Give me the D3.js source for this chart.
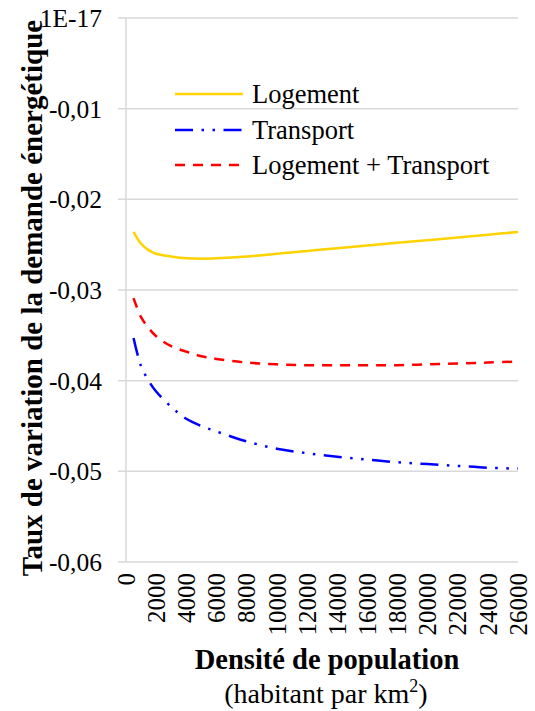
<!DOCTYPE html>
<html>
<head>
<meta charset="utf-8">
<script src="https://cdn.jsdelivr.net/npm/d3@7"></script>
<style>
  html, body { margin: 0; padding: 0; background: #fff; }
  svg { display: block; }
</style>
</head>
<body>
<svg id="chart" width="535" height="711"></svg>
<script>
// Population density (inhabitants per km²)
const density = [500, 1000, 1500, 2000, 3000, 4000, 5000, 6000, 8000, 10000, 12000, 14000, 16000, 18000, 20000, 22000, 24000, 26000];
// Rate of change of energy demand, per sector
const logement = [-0.0236, -0.0249, -0.0256, -0.0260, -0.0263, -0.02650, -0.02655, -0.02650, -0.0263, -0.0260, -0.0257, -0.0254, -0.0251, -0.0248, -0.0245, -0.0242, -0.0239, -0.0236];
const transport = [-0.0353, -0.0384, -0.0400, -0.0412, -0.0429, -0.0442, -0.0450, -0.0456, -0.0467, -0.0475, -0.0480, -0.0484, -0.0487, -0.0490, -0.0492, -0.0494, -0.0496, -0.0497];
const logementTransport = [-0.0309, -0.0330, -0.0342, -0.0351, -0.0362, -0.0368, -0.0373, -0.0376, -0.0380, -0.0382, -0.0383, -0.0383, -0.0383, -0.0383, -0.0382, -0.0381, -0.0380, -0.0379];

const seriesNames = ["Logement", "Transport", "Logement + Transport"];
const yTickValues = [0, -0.01, -0.02, -0.03, -0.04, -0.05, -0.06];
const yTickLabels = ["1E-17", "-0,01", "-0,02", "-0,03", "-0,04", "-0,05", "-0,06"];
const xTickValues = d3.range(0, 26001, 2000);

const FONT = "Liberation Serif";

const svg = d3.select("#chart").attr("font-family", FONT);
const plot = { left: 126, right: 518, top: 18, bottom: 562 };

const x = d3.scaleLinear().domain([0, 26000]).range([plot.left, plot.right]);
const y = d3.scaleLinear().domain([0, -0.06]).range([plot.top, plot.bottom]);

const gridColor = "#d9d9d9";

// horizontal gridlines
svg.append("g")
  .selectAll("line")
  .data(yTickValues)
  .join("line")
  .attr("x1", plot.left - 8)
  .attr("x2", plot.right)
  .attr("y1", d => y(d))
  .attr("y2", d => y(d))
  .attr("stroke", gridColor)
  .attr("stroke-width", 1.5);

// vertical axis line
svg.append("line")
  .attr("x1", x(0)).attr("x2", x(0))
  .attr("y1", plot.top).attr("y2", plot.bottom)
  .attr("stroke", gridColor)
  .attr("stroke-width", 1.5);

// y tick labels
svg.append("g")
  .selectAll("text")
  .data(yTickValues)
  .join("text")
  .attr("font-family", FONT)
  .attr("x", 102)
  .attr("y", d => y(d))
  .attr("dy", "0.35em")
  .attr("text-anchor", "end")
  .attr("font-size", 25.5)
  .text((d, i) => yTickLabels[i]);

// x tick labels, rotated
svg.append("g")
  .selectAll("text")
  .data(xTickValues)
  .join("text")
  .attr("font-family", FONT)
  .attr("transform", d => `translate(${x(d)},573) rotate(-90)`)
  .attr("dy", "0.35em")
  .attr("text-anchor", "end")
  .attr("font-size", 25)
  .text(d => d);

// axis titles
svg.append("text")
  .attr("font-family", FONT)
  .attr("transform", "translate(42,298) rotate(-90)")
  .attr("text-anchor", "middle")
  .attr("font-size", 29)
  .attr("font-weight", "bold")
  .text("Taux de variation de la demande énergétique");

svg.append("text")
  .attr("font-family", FONT)
  .attr("x", 327)
  .attr("y", 669)
  .attr("text-anchor", "middle")
  .attr("font-size", 28.5)
  .attr("font-weight", "bold")
  .text("Densité de population");

const sub = svg.append("text")
  .attr("font-family", FONT)
  .attr("x", 326)
  .attr("y", 703)
  .attr("text-anchor", "middle")
  .attr("font-size", 28);
sub.append("tspan").text("(habitant par km");
sub.append("tspan").attr("font-size", 18).attr("dy", -11).text("2");
sub.append("tspan").attr("dy", 11).text(")");

// series
const styles = [
  { color: "#ffd200", dash: null },
  { color: "#0000ff", dash: "18,8.5,2.5,8.5,2.5,8.5" },
  { color: "#ff0000", dash: "10,8" }
];
const values = [logement, transport, logementTransport];

const line = d3.line()
  .x(d => x(d[0]))
  .y(d => y(d[1]))
  .curve(d3.curveCatmullRom.alpha(0.5));

values.forEach((vals, i) => {
  svg.append("path")
    .datum(density.map((d, j) => [d, vals[j]]))
    .attr("d", line)
    .attr("fill", "none")
    .attr("stroke", styles[i].color)
    .attr("stroke-width", 2.5)
    .attr("stroke-dasharray", styles[i].dash);
});

// legend
const legendY = [94, 130, 165];
const legend = svg.append("g");
seriesNames.forEach((name, i) => {
  legend.append("line")
    .attr("x1", 175).attr("x2", 243)
    .attr("y1", legendY[i]).attr("y2", legendY[i])
    .attr("stroke", styles[i].color)
    .attr("stroke-width", 2.5)
    .attr("stroke-dasharray", styles[i].dash);
  legend.append("text")
    .attr("font-family", FONT)
    .attr("x", 252)
    .attr("y", legendY[i])
    .attr("dy", "0.35em")
    .attr("font-size", 26.5)
    .text(name);
});
</script>
</body>
</html>
